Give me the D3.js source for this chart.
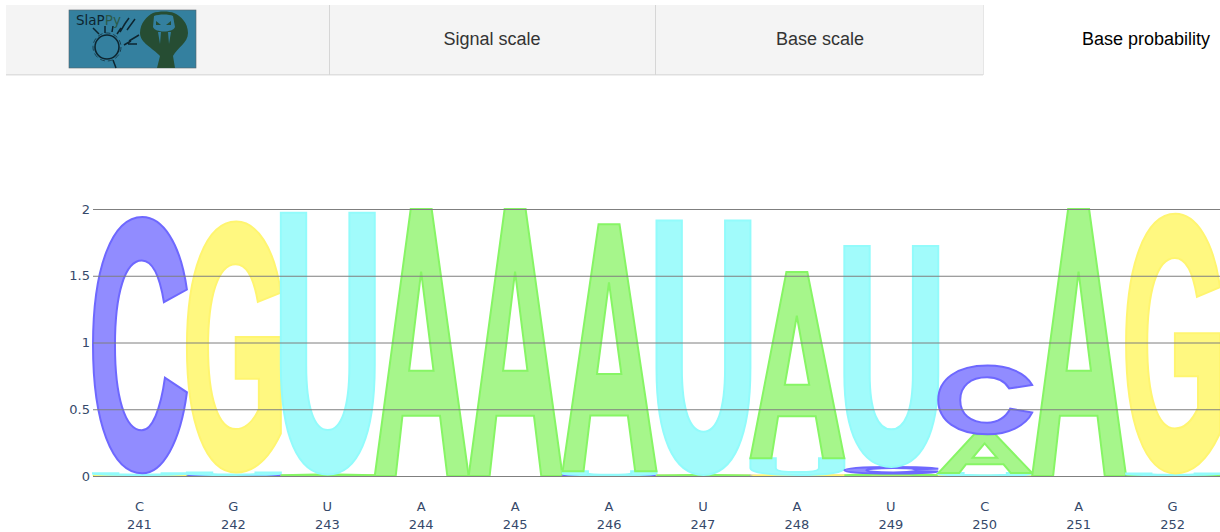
<!DOCTYPE html>
<html>
<head>
<meta charset="utf-8">
<script src="https://d3js.org/d3.v7.min.js"></script>
<style>
  html, body { margin: 0; padding: 0; background: #fff; overflow: hidden; }
  .tab { font-family: "Liberation Sans", Arimo, sans-serif; font-size: 18px; text-anchor: middle; fill: #333; }
  .axis text { font-family: "DejaVu Sans", sans-serif; font-size: 13px; fill: #36496a; }
  .axis .domain { display: none; }
</style>
</head>
<body>
<div id="container"></div>
<script>
const width = 1220,
  height = 532,
  margin = { top: 209, bottom: 56, left: 93, right: 0 };

// values
const positions = [241, 242, 243, 244, 245, 246, 247, 248, 249, 250, 251, 252];
const sequence = ["C", "G", "U", "A", "A", "A", "U", "A", "U", "C", "A", "G"];
const valuesA = [0.004, 0.004, 0.005, 2, 2, 1.85, 0.004, 1.395, 0.012, 0.29, 2, 0.004];
const valuesC = [1.92, 0.004, 0.002, 0, 0, 0.003, 0.002, 0.002, 0.05, 0.515, 0, 0.003];
const valuesG = [0.004, 1.88, 0.004, 0, 0, 0.002, 0.002, 0.006, 0.006, 0.002, 0, 1.945];
const valuesU = [0.012, 0.018, 1.96, 0, 0, 0.03, 1.905, 0.125, 1.655, 0.02, 0, 0.012];
const yTicks = [0, 0.5, 1, 1.5, 2];
const tabLabels = ["Signal scale", "Base scale", "Base probability"];

const baseValues = { A: valuesA, C: valuesC, G: valuesG, U: valuesU };
const baseFill = { A: "#a6f68b", C: "#918cff", G: "#fff880", U: "#a1fbfb" };
const baseStroke = { A: "#87f565", C: "#6e68ff", G: "#fff570", U: "#92fbfb" };

// letter outlines in a unit box, y pointing up
const glyphs = {
  A: [["M", 0, 0], ["L", 0.383, 1], ["L", 0.606, 1], ["L", 1, 0], ["L", 0.773, 0], ["L", 0.695, 0.226], ["L", 0.295, 0.226], ["L", 0.223, 0], ["Z"],
    ["M", 0.494, 0.765], ["L", 0.366, 0.394], ["L", 0.626, 0.394], ["Z"]],
  C: [["M", 1, 0.717], ["C", 0.93, 0.9, 0.74, 1, 0.525, 1], ["C", 0.2, 1, 0, 0.8, 0, 0.5], ["C", 0, 0.2, 0.2, 0, 0.525, 0], ["C", 0.74, 0, 0.93, 0.12, 1, 0.316],
    ["L", 0.766, 0.373], ["C", 0.72, 0.25, 0.63, 0.168, 0.52, 0.168], ["C", 0.34, 0.168, 0.234, 0.3, 0.234, 0.5], ["C", 0.234, 0.7, 0.34, 0.83, 0.52, 0.83], ["C", 0.63, 0.83, 0.71, 0.77, 0.755, 0.668], ["Z"]],
  G: [["M", 1, 0.717], ["C", 0.93, 0.9, 0.74, 1, 0.525, 1], ["C", 0.2, 1, 0, 0.8, 0, 0.5], ["C", 0, 0.2, 0.2, 0, 0.525, 0], ["C", 0.72, 0, 0.88, 0.06, 1, 0.155],
    ["L", 1, 0.54], ["L", 0.52, 0.54], ["L", 0.52, 0.374], ["L", 0.766, 0.374], ["L", 0.766, 0.252], ["C", 0.7, 0.2, 0.62, 0.173, 0.52, 0.173], ["C", 0.33, 0.173, 0.225, 0.3, 0.225, 0.5], ["C", 0.225, 0.7, 0.33, 0.83, 0.52, 0.83], ["C", 0.63, 0.83, 0.71, 0.78, 0.755, 0.68], ["Z"]],
  U: [["M", 0, 1], ["L", 0.27, 1], ["L", 0.27, 0.42], ["C", 0.27, 0.25, 0.36, 0.17, 0.5, 0.17], ["C", 0.64, 0.17, 0.73, 0.25, 0.73, 0.42], ["L", 0.73, 1], ["L", 1, 1], ["L", 1, 0.42],
    ["C", 1, 0.15, 0.82, 0, 0.5, 0], ["C", 0.18, 0, 0, 0.15, 0, 0.42], ["Z"]]
};

const svg = d3.select("#container")
  .append("svg")
  .attr("width", width)
  .attr("height", height)
  .style("display", "block");

/* TAB BAR */
const tabs = svg.append("g");
tabs.append("rect").attr("x", 6).attr("y", 5).attr("width", 977).attr("height", 70).attr("fill", "#f4f4f4");
tabs.append("rect").attr("x", 6).attr("y", 74).attr("width", 977).attr("height", 1.5).attr("fill", "#dfdfdf");
[329, 655].forEach(x => {
  tabs.append("rect").attr("x", x).attr("y", 5).attr("width", 1).attr("height", 70).attr("fill", "#d6d6d6");
});
tabs.append("rect").attr("x", 983).attr("y", 5).attr("width", 0.6).attr("height", 70).attr("fill", "#d6d6d6");
tabs.selectAll("text")
  .data(tabLabels)
  .join("text")
  .attr("class", "tab")
  .attr("x", (d, i) => [492, 820, 1146][i])
  .attr("y", 44.5)
  .style("fill", (d, i) => i === 2 ? "#000" : "#333")
  .text(d => d);

/* LOGO */
const logo = svg.append("g").attr("transform", "translate(69,10)");
logo.append("rect").attr("width", 127).attr("height", 58).attr("fill", "#34809f").attr("stroke", "#56626a").attr("stroke-width", 0.6);
logo.append("text").attr("x", 7).attr("y", 15).attr("font-family", "DejaVu Sans").attr("font-size", 13.5).attr("fill", "#0d2530")
  .text("Sla").append("tspan").text("P").append("tspan").attr("fill", "#2c5a48").text("Py");
logo.append("path").attr("d", "M88,58 L91,46 C84,38 71,33 71,23 C71,13 78,6 84,3 C90,1 100,1 105,3 C112,6 119,13 119,23 C119,33 108,38 104,46 L106,58 Z").attr("fill", "#264d33");
logo.append("path").attr("d", "M85,6 C90,4 100,4 104,6 L106,17 C104,23 86,23 84,17 Z").attr("fill", "#34809f");
logo.append("path").attr("d", "M87,11 L92,15 L87,15 Z M102,11 L97,15 L102,15 Z").attr("fill", "#264d33");
logo.append("path").attr("d", "M89,22 L91,34 L92,22 Z M99,22 L100,34 L102,22 Z").attr("fill", "#34809f");
logo.append("circle").attr("cx", 38).attr("cy", 37).attr("r", 12).attr("fill", "none").attr("stroke", "#0d2530").attr("stroke-width", 1.6);
logo.append("circle").attr("cx", 38).attr("cy", 37).attr("r", 14).attr("fill", "none").attr("stroke", "#0d2530").attr("stroke-width", 0.7).attr("stroke-dasharray", "5 3");
logo.append("path").attr("d", "M24,18 L30,24 M36,16 L36,23 M44,16 L43,22 M52,18 L48,24 M57,12 L51,22 M66,9 L58,20 M60,8 L55,15 M70,25 L60,31 M62,31 L55,35 M68,34 L59,34 M44,50 L47,58")
  .attr("stroke", "#0d2530").attr("stroke-width", 1.5).attr("fill", "none");

/* SCALES */
const xScale = d3.scaleLinear()
  .domain([240.5, 252.5])
  .range([margin.left, width - margin.right]);

const yScale = d3.scaleLinear()
  .domain([0, 2])
  .range([height - margin.bottom, margin.top]);

// stack the bases at each position, smallest at the bottom
const letters = positions.flatMap((pos, i) => {
  const order = Object.keys(baseValues)
    .filter(b => baseValues[b][i] > 0)
    .sort((a, b) => baseValues[a][i] - baseValues[b][i]);
  let sum = 0;
  return order.map(base => {
    const y0 = sum;
    sum += baseValues[base][i];
    return { pos, base, y0, y1: sum };
  });
});

function glyphPath(d) {
  const gx = d3.scaleLinear().domain([0, 1]).range([xScale(d.pos - 0.5), xScale(d.pos + 0.5)]);
  const gy = d3.scaleLinear().domain([0, 1]).range([yScale(d.y0), yScale(d.y1)]);
  const p = d3.path();
  glyphs[d.base].forEach(c => {
    if (c[0] === "M") p.moveTo(gx(c[1]), gy(c[2]));
    if (c[0] === "L") p.lineTo(gx(c[1]), gy(c[2]));
    if (c[0] === "C") p.bezierCurveTo(gx(c[1]), gy(c[2]), gx(c[3]), gy(c[4]), gx(c[5]), gy(c[6]));
    if (c[0] === "Z") p.closePath();
  });
  return p.toString();
}

/* LETTERS */
svg.append("g")
  .selectAll("path")
  .data(letters)
  .join("path")
  .attr("d", glyphPath)
  .attr("fill", d => baseFill[d.base])
  .attr("fill-rule", "evenodd")
  .attr("stroke", d => baseStroke[d.base])
  .attr("stroke-width", 2);

/* AXES */
// gridlines sit on top of the letters
const yAxis = d3.axisLeft(yScale)
  .tickValues(yTicks)
  .tickSize(-(width - margin.left - margin.right))
  .tickPadding(3)
  .tickFormat(d => d);

svg.append("g")
  .attr("class", "axis")
  .attr("transform", `translate(${margin.left}, 0)`)
  .call(yAxis)
  .call(g => g.selectAll(".tick line").attr("stroke", "#7f7f7f"));

const xAxis = d3.axisBottom(xScale)
  .tickValues(positions)
  .tickSize(0);

svg.append("g")
  .attr("class", "axis")
  .attr("transform", `translate(0, ${height - margin.bottom})`)
  .call(xAxis)
  .call(g => g.selectAll(".tick text").each(function (d, i) {
    const t = d3.select(this).text(null).attr("y", 0).attr("dy", null);
    t.append("tspan").attr("x", -1).attr("y", 35).text(sequence[i]);
    t.append("tspan").attr("x", -1).attr("y", 53).text(d);
  }));
</script>
</body>
</html>
